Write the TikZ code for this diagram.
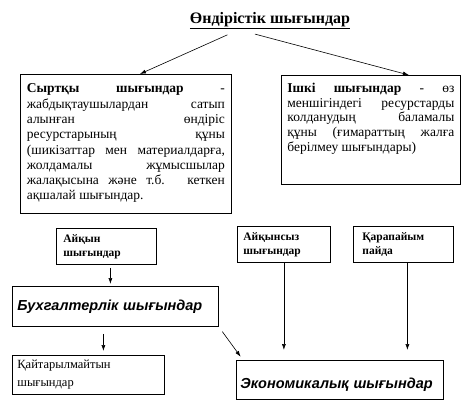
\documentclass[tikz,border=0pt]{standalone}
\usepackage{fontspec}
\setmainfont{Liberation Serif}
\newfontfamily\arialfont{Liberation Sans}
\usetikzlibrary{arrows.meta}

\tikzset{
  frame/.style={draw,line width=0.8pt,rectangle,anchor=north west,align=left},
  small/.style={frame,minimum height=36pt,font=\fontsize{11.5}{14}\selectfont\bfseries},
  big/.style={frame,font=\arialfont\fontsize{14.5}{16}\selectfont\bfseries\itshape},
  arr/.style={-{Latex[length=6pt,width=4pt]},line width=0.6pt},
}
\def\txtbox#1#2#3{\parbox[c][#2][t]{#1}{\hyphenpenalty=10000 #3}}

\begin{document}
\begin{tikzpicture}[x=1pt,y=-1pt]
\useasboundingbox (0,0) rectangle (472,412);

    % top level
    \node (title) at (270,21) {\fontsize{16}{18}\selectfont\bfseries\underline{Өндірістік шығындар}};
    \node[frame,inner xsep=6.5pt,inner ysep=0pt,minimum width=211pt,minimum height=139pt] (ext) at (20,74)
        {\txtbox{198pt}{120pt}{\fontsize{13.5}{15.3}\selectfont
        \textbf{Сыртқы шығындар} -\linebreak
        жабдықтаушылардан сатып\linebreak
        алынған өндіріс\linebreak
        ресурстарының құны\linebreak
        (шикізаттар мен материалдарға,\linebreak
        жолдамалы жұмысшылар\linebreak
        жалақысына және т.б. кеткен\linebreak
        ақшалай шығындар.}};
    \node[frame,inner xsep=6pt,inner ysep=0pt,minimum width=177pt,minimum height=109pt] (int) at (281,75)
        {\txtbox{167pt}{93pt}{\fontsize{13.5}{14.6}\selectfont
        \textbf{Ішкі шығындар} - өз\linebreak
        меншігіндегі ресурстарды\linebreak
        колданудың баламалы\linebreak
        құны (ғимараттың жалға\linebreak
        берілмеу шығындары)}};

    % lower part
    \node[small,inner xsep=7pt,text width=86pt,minimum width=100pt] (ayq) at (56,228) {Айқын\\шығындар};
    \node[small,inner xsep=6pt,text width=81pt,minimum width=93pt] (ayqs) at (237,226) {Айқынсыз\\шығындар};
    \node[small,inner xsep=9pt,text width=82pt,minimum width=100pt] (qar) at (353,226) {Қарапайым\\пайда};
    \node[big,inner xsep=5pt,text width=196pt,minimum height=40pt] (bux) at (12,286) {Бухгалтерлік шығындар};
    \node[frame,inner xsep=5pt,text width=142pt,minimum height=39pt,font=\fontsize{12.5}{18}\selectfont] (qay) at (12,355) {Қайтарылмайтын\\шығындар};
    \node[big,inner xsep=4pt,inner ysep=0pt,text width=199pt,minimum height=39pt,text height=20pt,text depth=2pt] (eko) at (236,360) {Экономикалық шығындар};

    \draw[arr,shorten <=5pt] ([xshift=-38pt]title.south) -- ([xshift=14pt]ext.north);
    \draw[arr,shorten <=5pt] ([xshift=-20pt]title.south) -- ([xshift=38pt]int.north);
    \draw[arr,shorten <=3pt,shorten >=2pt] ([xshift=4pt]ayq.south) -- ([xshift=4pt]ayq.south |- bux.north);
    \draw[arr,shorten <=7pt,shorten >=4pt] ([xshift=-12pt]bux.south) -- ([xshift=-12pt]bux.south |- qay.north);
    \draw[arr,shorten <=6pt,shorten >=4pt] (bux.south east) -- ([xshift=7pt]eko.north west);
    \draw[arr,shorten >=10pt] (ayqs.south) -- (ayqs.south |- eko.north);
    \draw[arr,shorten >=10pt] ([xshift=4pt]qar.south) -- ([xshift=4pt]qar.south |- eko.north);

\end{tikzpicture}
\end{document}
